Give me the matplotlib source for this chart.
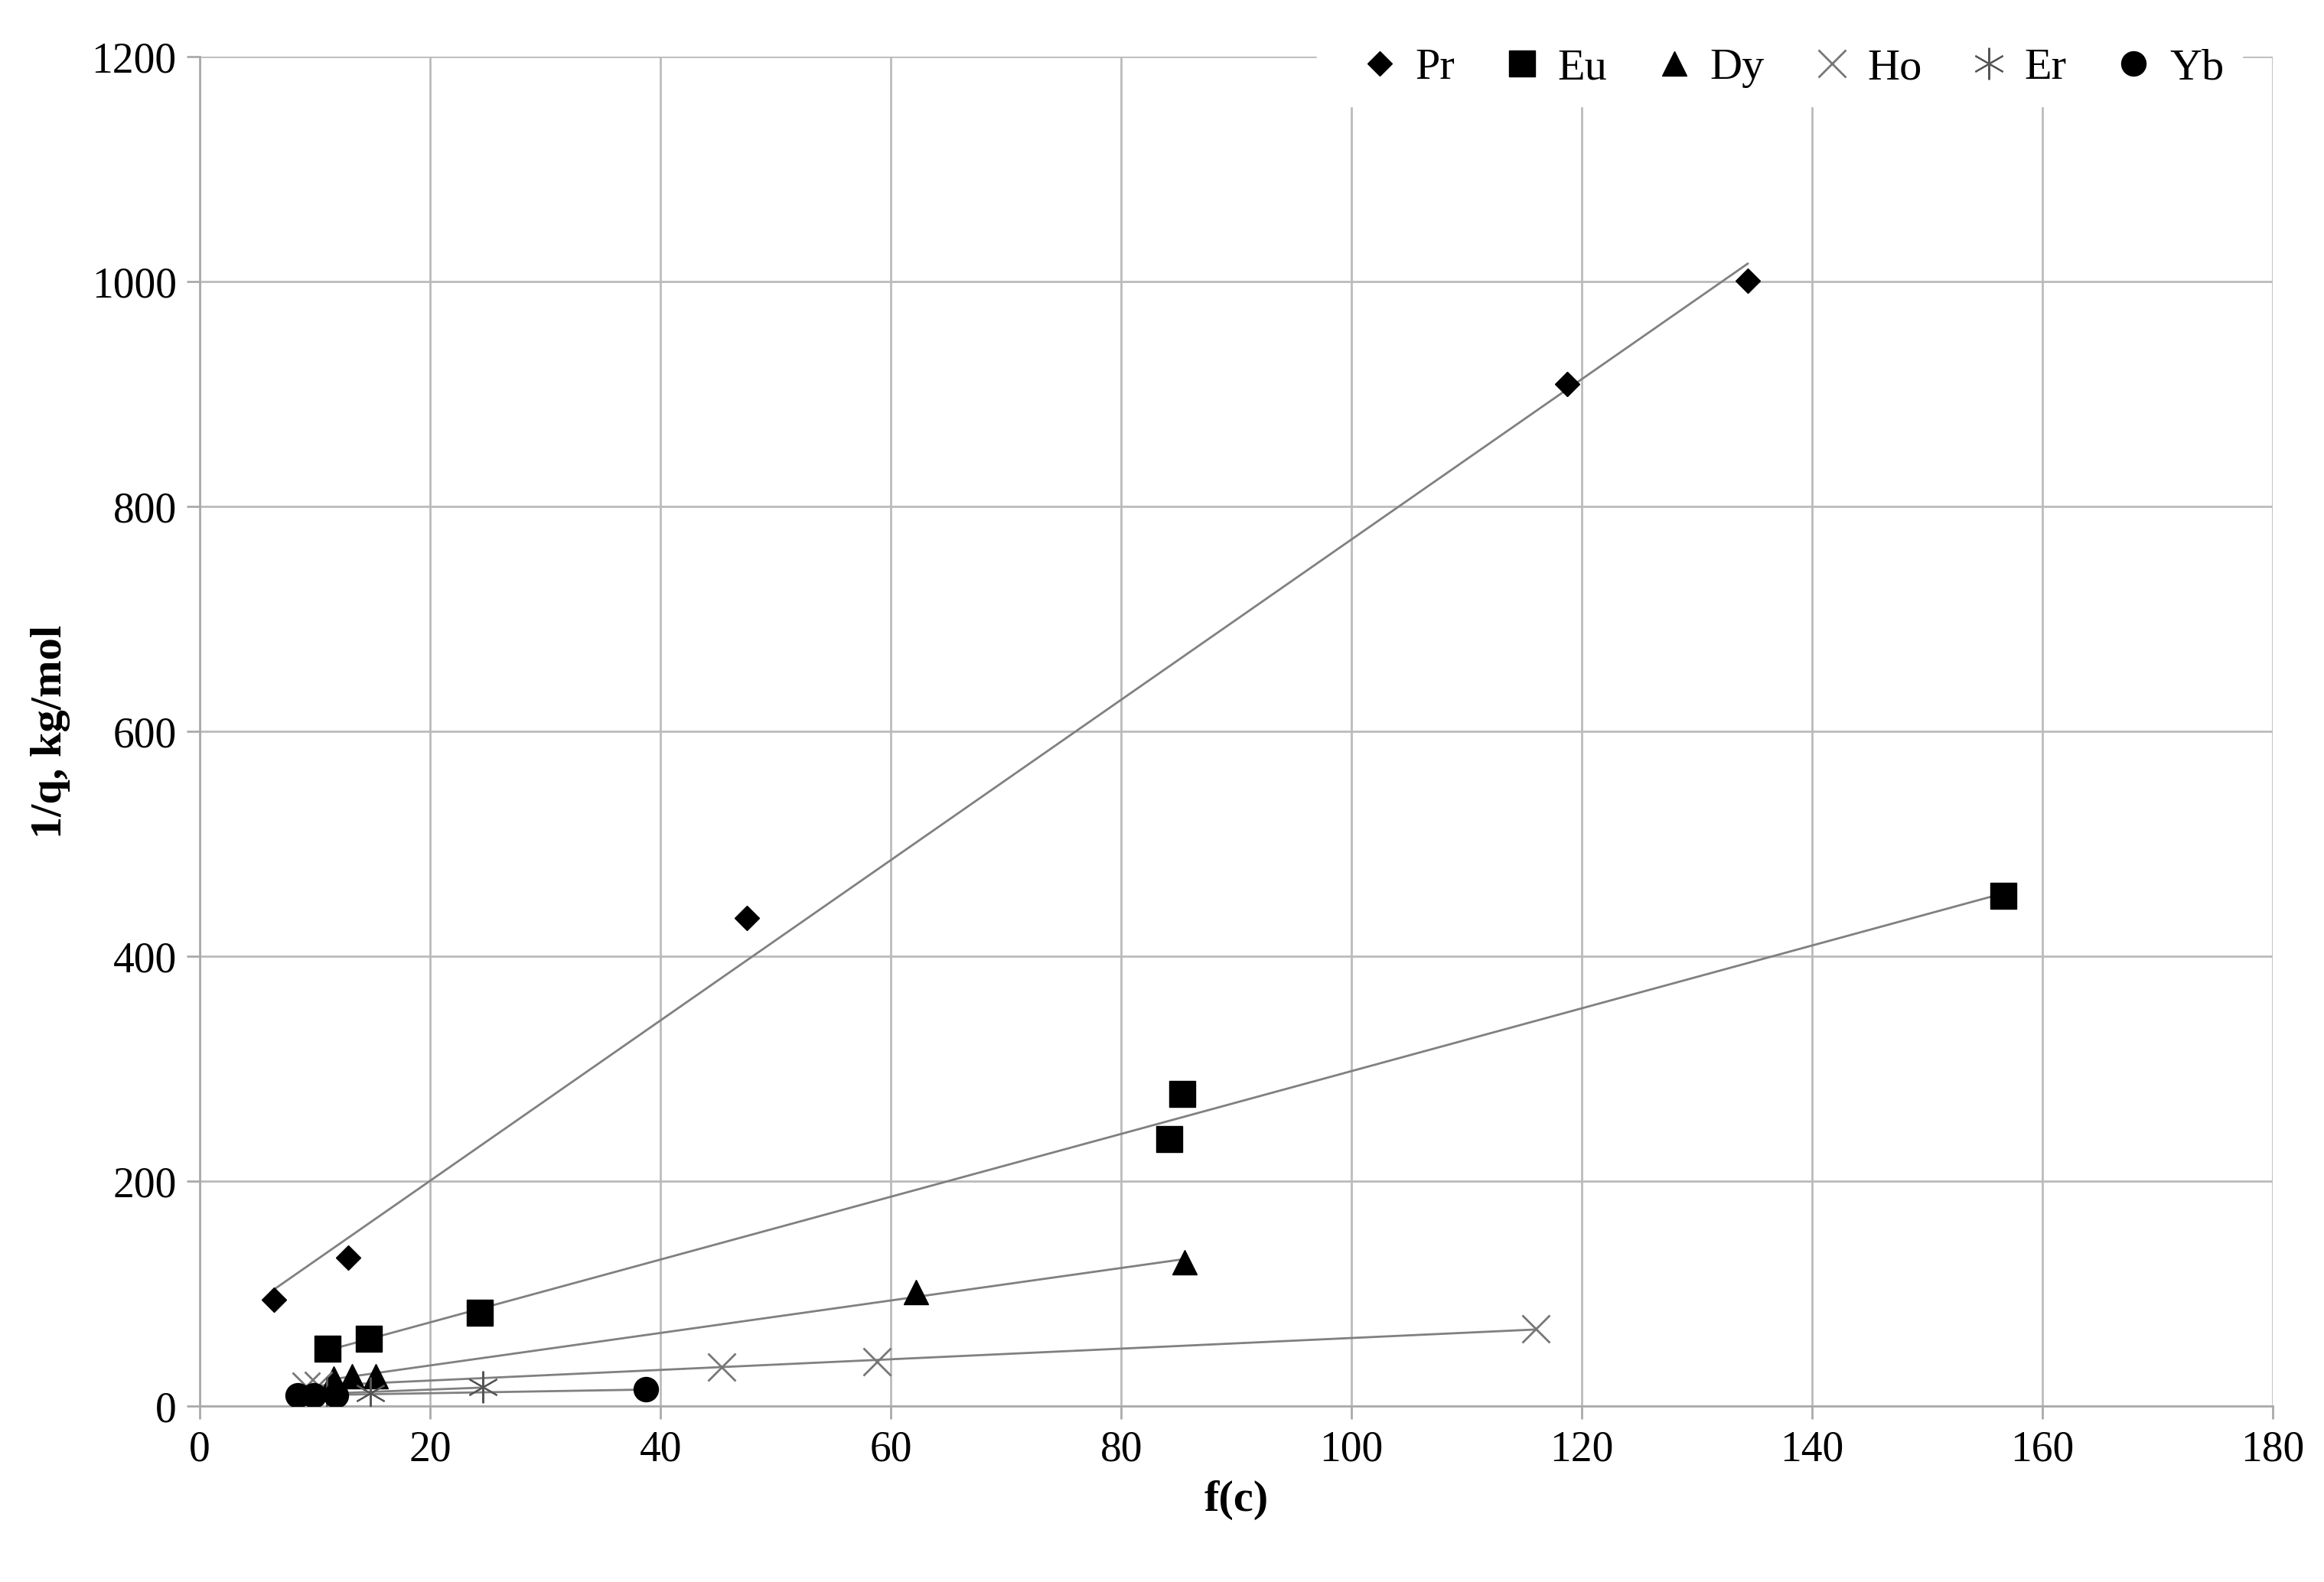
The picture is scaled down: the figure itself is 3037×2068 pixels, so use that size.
import numpy as np
import matplotlib.pyplot as plt

plt.rcParams['font.family'] = ['Liberation Serif', 'DejaVu Serif']

pr_x = [6.4, 12.9, 47.5, 118.7, 134.4]
pr_y = [95, 132, 434, 909, 1001]
eu_x = [11.1, 14.7, 24.3, 84.2, 85.3, 156.6]
eu_y = [51, 60, 83, 238, 278, 454]
dy_x = [11.6, 13.2, 15.3, 62.2, 85.5]
dy_y = [25, 27, 27, 102, 128]
ho_x = [9.2, 10.3, 45.3, 58.8, 116.0]
ho_y = [18, 19, 35, 40, 69]
er_x = [11.0, 14.8, 24.6]
er_y = [12, 12, 17]
yb_x = [8.5, 9.9, 11.8, 38.7]
yb_y = [10, 10, 10, 15]

series = [
    ('Pr', pr_x, pr_y, 'D', 'black', 16, 1),
    ('Eu', eu_x, eu_y, 's', 'black', 25, 1),
    ('Dy', dy_x, dy_y, '^', 'black', 23, 1),
    ('Ho', ho_x, ho_y, 'x', '#777777', 26, 2),
    ('Er', er_x, er_y, (6, 2, 0), '#555555', 30, 1.5),
    ('Yb', yb_x, yb_y, 'o', 'black', 23, 1),
]

fig, ax = plt.subplots(figsize=(30.37, 20.68), dpi=100)
fig.subplots_adjust(left=0.086, right=0.978, top=0.964, bottom=0.111)

for name, x, y, m, c, ms, mew in series:
    x = np.array(x); y = np.array(y)
    k, b = np.polyfit(x, y, 1)
    xx = np.array([x.min(), x.max()])
    ax.plot(xx, k * xx + b, color='#808080', lw=2, zorder=2)
    ax.plot(x, y, linestyle='none', marker=m, color=c, markersize=ms,
            markeredgewidth=mew, label=name, zorder=3)

ax.set_xlim(0, 180)
ax.set_ylim(0, 1200)
ax.set_xticks(range(0, 181, 20))
ax.set_yticks(range(0, 1201, 200))
ax.grid(True, color='#bbbbbb', lw=2)
ax.set_axisbelow(True)
for s in ['top', 'right']:
    ax.spines[s].set_visible(False)
for s in ['left', 'bottom']:
    ax.spines[s].set_color('#aaaaaa')
    ax.spines[s].set_linewidth(2)
ax.tick_params(labelsize=40, length=12, width=2, color='#aaaaaa', pad=10)
ax.set_xlabel('f(c)', fontsize=42, fontweight='bold', labelpad=10)
ax.set_ylabel('1/q, kg/mol', fontsize=42, fontweight='bold', labelpad=20)
ax.legend(loc='upper right', ncol=6, fontsize=42, frameon=True, framealpha=1,
          edgecolor='white', handletextpad=-0.2, columnspacing=0.5,
          borderaxespad=0.0, bbox_to_anchor=(0.985, 1.02))

plt.savefig('out.png', dpi=100)
